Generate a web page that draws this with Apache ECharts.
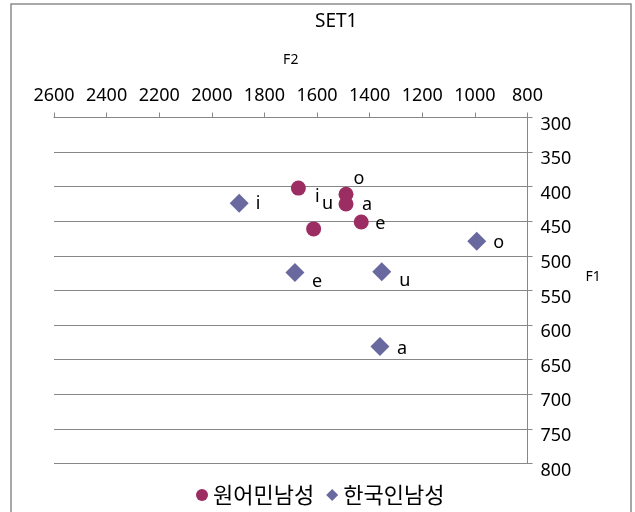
<!DOCTYPE html>
<html>
<head>
<meta charset="utf-8">
<script src="https://cdn.jsdelivr.net/npm/echarts@6/dist/echarts.min.js"></script>
<style>
  html, body { margin: 0; padding: 0; background: #fff; }
  #chart { width: 635px; height: 512px; }
</style>
</head>
<body>
<div id="chart"></div>
<script>
// Vowel formant data (Hz): F2 on the horizontal axis, F1 on the vertical axis
const nativeVowels = ['i', 'o', 'a', 'e', 'u'];
const nativeF2 = [1671, 1490, 1490, 1432, 1613];
const nativeF1 = [402, 411, 425, 451, 461];

const koreanVowels = ['i', 'o', 'e', 'u', 'a'];
const koreanF2 = [1896, 993, 1684, 1354, 1361];
const koreanF1 = [424, 479, 524, 523, 631];

const seriesNames = ['원어민남성', '한국인남성'];
const chartTitle = 'SET1';
const xName = 'F2';
const yName = 'F1';

// Label placement (pixel offsets from each marker centre)
const nativeLabelOffsets = [[19, 9], [13, -15], [21, 1], [19, 2], [14, -25]];
const koreanLabelOffsets = [[19, 1], [22, 2], [22, 9], [23, 9], [22, 2]];

const FONT = '"Noto Sans", "Noto Sans CJK KR", sans-serif';
const FONT_KR = '"Noto Sans CJK KR", "Noto Sans", sans-serif';
const GRAY = '#878787';

function buildPoints(f2, f1, names, offsets) {
  return f2.map((v, i) => ({
    value: [v, f1[i]],
    name: names[i],
    label: { offset: offsets[i] }
  }));
}

const chart = echarts.init(document.getElementById('chart'), null, { renderer: 'canvas' });

const pointLabel = {
  show: true,
  position: 'inside',
  formatter: '{b}',
  color: '#000',
  fontSize: 18,
  fontFamily: FONT
};

chart.setOption({
  animation: false,
  backgroundColor: '#fff',
  graphic: [{
    type: 'rect',
    shape: { x: 11, y: 4, width: 620, height: 540 },
    style: { fill: 'none', stroke: '#8c8c8c', lineWidth: 1.5 },
    silent: true
  }],
  title: {
    text: chartTitle,
    left: 315,
    top: 12,
    padding: 0,
    textStyle: { fontSize: 19, fontWeight: 'normal', color: '#000', fontFamily: FONT }
  },
  legend: {
    left: 191,
    top: 479,
    itemWidth: 12,
    itemHeight: 12,
    itemGap: 12,
    textStyle: { fontSize: 22, color: '#000', fontFamily: FONT_KR },
    data: [
      { name: seriesNames[0], icon: 'circle' },
      { name: seriesNames[1], icon: 'diamond' }
    ]
  },
  grid: { left: 54, right: 107.5, top: 117.5, bottom: 48.5, containLabel: false },
  xAxis: {
    type: 'value',
    position: 'top',
    inverse: true,
    min: 800,
    max: 2600,
    interval: 200,
    name: xName,
    nameLocation: 'middle',
    nameGap: 50,
    nameTextStyle: { fontSize: 14, color: '#000', fontFamily: FONT },
    axisLine: { show: true, onZero: false, lineStyle: { color: GRAY, width: 1 } },
    axisTick: { show: true, inside: false, length: 5, lineStyle: { color: GRAY } },
    axisLabel: { fontSize: 18, color: '#000', fontFamily: FONT, margin: 13, formatter: v => String(v) },
    splitLine: { show: false }
  },
  yAxis: {
    type: 'value',
    position: 'right',
    inverse: true,
    min: 300,
    max: 800,
    interval: 50,
    name: yName,
    nameLocation: 'middle',
    nameGap: 58,
    nameRotate: 0,
    nameTextStyle: { fontSize: 14, color: '#000', fontFamily: FONT, verticalAlign: 'bottom', lineHeight: 26 },
    axisLine: { show: true, onZero: false, lineStyle: { color: GRAY, width: 1 } },
    axisTick: { show: true, inside: false, length: 5, lineStyle: { color: GRAY } },
    axisLabel: { fontSize: 18, color: '#000', fontFamily: FONT, margin: 13, verticalAlign: 'top', lineHeight: 14, formatter: v => String(v) },
    splitLine: { show: true, lineStyle: { color: GRAY, width: 1 } }
  },
  series: [
    {
      name: seriesNames[0],
      type: 'scatter',
      symbol: 'circle',
      symbolSize: 15,
      itemStyle: { color: '#9c2d63', opacity: 1 },
      label: pointLabel,
      data: buildPoints(nativeF2, nativeF1, nativeVowels, nativeLabelOffsets),
      z: 3
    },
    {
      name: seriesNames[1],
      type: 'scatter',
      symbol: 'diamond',
      symbolSize: 19,
      itemStyle: { color: '#6969a0', opacity: 1 },
      label: pointLabel,
      data: buildPoints(koreanF2, koreanF1, koreanVowels, koreanLabelOffsets),
      z: 2
    }
  ]
});
</script>
</body>
</html>
